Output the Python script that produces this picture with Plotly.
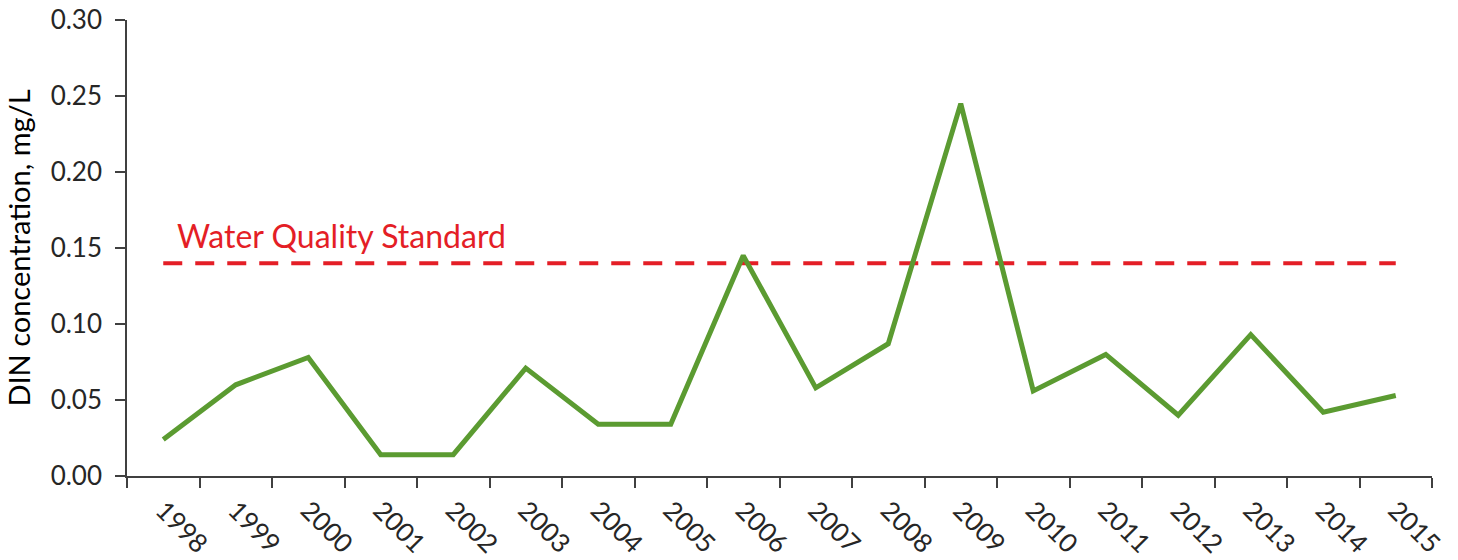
import plotly.graph_objects as go

years = ["1998", "1999", "2000", "2001", "2002", "2003", "2004", "2005", "2006",
         "2007", "2008", "2009", "2010", "2011", "2012", "2013", "2014", "2015"]
din = [0.024, 0.060, 0.078, 0.014, 0.014, 0.071, 0.034, 0.034, 0.145,
       0.058, 0.087, 0.245, 0.056, 0.080, 0.040, 0.093, 0.042, 0.053]
standard = 0.14
standard_label = "Water Quality Standard"
y_ticks = [0.00, 0.05, 0.10, 0.15, 0.20, 0.25, 0.30]

FONT = "Lato"
AXIS_COLOR = "#404040"
TEXT_COLOR = "#262626"

fig = go.Figure()
fig.add_trace(go.Scatter(
    x=[years[0], years[-1]], y=[standard, standard], mode="lines",
    line=dict(color="#e41e26", width=4, dash="19px,13px"),
    hoverinfo="skip", showlegend=False))
fig.add_trace(go.Scatter(
    x=years, y=din, mode="lines",
    line=dict(color="#5b9b31", width=5),
    showlegend=False))

fig.add_annotation(
    text=standard_label, xref="paper", yref="y", x=0.037, y=0.158,
    xanchor="left", yanchor="middle", showarrow=False,
    font=dict(family=FONT, size=32, color="#e41e26"))

fig.update_layout(
    width=1458, height=560,
    margin=dict(l=127, r=26, t=20, b=84, autoexpand=False),
    paper_bgcolor="white", plot_bgcolor="white",
    font=dict(family=FONT, size=26, color=TEXT_COLOR),
)
fig.update_xaxes(
    type="category", categoryorder="array", categoryarray=years,
    range=[-0.5, len(years) - 0.5], automargin=False,
    tickson="boundaries", ticks="outside", ticklen=10, tickwidth=1.5,
    tickcolor=AXIS_COLOR, showline=True, linecolor=AXIS_COLOR, linewidth=1.5,
    showgrid=False, zeroline=False, tickangle=45, ticklabelstandoff=7,
    ticklabeloverflow="allow",
    tickfont=dict(family=FONT, size=26, color=TEXT_COLOR),
)
fig.update_yaxes(
    range=[0, 0.30], tickvals=y_ticks, tickformat=".2f", automargin=False,
    ticks="outside", ticklen=10, tickwidth=1.5, tickcolor=AXIS_COLOR,
    showline=True, linecolor=AXIS_COLOR, linewidth=1.5,
    showgrid=False, zeroline=False, ticklabelstandoff=8,
    ticklabeloverflow="allow",
    tickfont=dict(family=FONT, size=26, color=TEXT_COLOR),
    title=dict(text="DIN concentration, mg/L", standoff=12,
               font=dict(family=FONT, size=29, color="#000000")),
)

fig.write_html("out.html",
               config={"displayModeBar": False},
               post_script="document.body.style.margin='0';document.body.style.overflow='hidden';")
